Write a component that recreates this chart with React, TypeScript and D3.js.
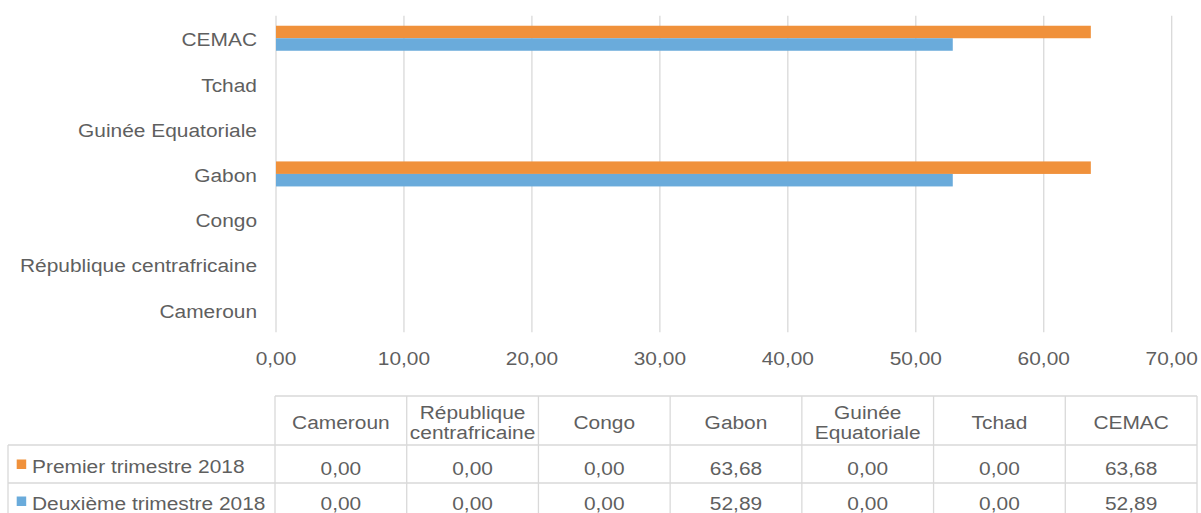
import React from "react";
import * as d3 from "d3";

const categories = [
  "Cameroun",
  "République centrafricaine",
  "Congo",
  "Gabon",
  "Guinée Equatoriale",
  "Tchad",
  "CEMAC",
];
const headerLines = [
  ["Cameroun"],
  ["République", "centrafricaine"],
  ["Congo"],
  ["Gabon"],
  ["Guinée", "Equatoriale"],
  ["Tchad"],
  ["CEMAC"],
];
const seriesNames = ["Premier trimestre 2018", "Deuxième trimestre 2018"];
const premier = [0, 0, 0, 63.68, 0, 0, 63.68];
const deuxieme = [0, 0, 0, 52.89, 0, 0, 52.89];
const xTicks = [0, 10, 20, 30, 40, 50, 60, 70];
const colors = ["#F0913B", "#6AABDB"];

const W = 1201;
const H = 513;
const TXT = "#5f5f5f";
const GRID = "#D9D9D9";
const FS = 19;
const SX = 1.1;
const FONT = "'Liberation Sans', Arial, Helvetica, sans-serif";

const fmt = (v: number) => d3.format(".2f")(v).replace(".", ",");

function T({ x, y, anchor = "middle", children }: any) {
  return (
    <text
      transform={`translate(${x},${y}) scale(${SX},1)`}
      textAnchor={anchor}
      fontSize={FS}
      fill={TXT}
      fontFamily={FONT}
    >
      {children}
    </text>
  );
}

export default function App() {
  const series = [premier, deuxieme];
  const x = d3.scaleLinear().domain([0, 70]).range([276, 1171.7]);
  const y = d3
    .scaleBand<string>()
    .domain([...categories].reverse())
    .range([15.7, 332.3])
    .paddingInner(0)
    .paddingOuter(0);
  const bw = y.bandwidth();
  const inner = d3
    .scaleBand<number>()
    .domain([0, 1])
    .range([bw * 0.222, bw * 0.775]);

  // table geometry
  const tLeft = 8;
  const tColStart = 275;
  const tRight = 1197;
  const col = d3
    .scaleBand<string>()
    .domain(categories)
    .range([tColStart, tRight]);
  const rowLines = [396, 445, 483, 521];
  const rowBaselines = [475, 510];
  const legendBaselines = [473, 510];

  return (
    <svg
      width={W}
      height={H}
      style={{ position: "absolute", left: 0, top: 0, background: "#fff" }}
    >
      <rect x={0} y={0} width={W} height={H} fill="#fff" />
      {/* gridlines */}
      {xTicks.map((t) => (
        <line
          key={t}
          x1={x(t)}
          x2={x(t)}
          y1={15.7}
          y2={332.3}
          stroke={GRID}
          strokeWidth={1.3}
        />
      ))}
      {/* bars */}
      {categories.map((c, i) =>
        series.map((s, k) =>
          s[i] > 0 ? (
            <rect
              key={c + k}
              x={x(0)}
              y={(y(c) as number) + (inner(k) as number)}
              width={x(s[i]) - x(0)}
              height={inner.bandwidth()}
              fill={colors[k]}
            />
          ) : null
        )
      )}
      {/* y labels */}
      {categories.map((c) => (
        <T key={c} x={257} y={(y(c) as number) + bw / 2 + 8} anchor="end">
          {c}
        </T>
      ))}
      {/* x tick labels */}
      {xTicks.map((t) => (
        <T key={t} x={x(t)} y={365}>
          {fmt(t)}
        </T>
      ))}
      {/* table lines */}
      <line x1={tColStart} x2={tRight} y1={rowLines[0]} y2={rowLines[0]} stroke={GRID} strokeWidth={1.3} />
      {rowLines.slice(1).map((ry) => (
        <line key={ry} x1={tLeft} x2={tRight} y1={ry} y2={ry} stroke={GRID} strokeWidth={1.3} />
      ))}
      <line x1={tLeft} x2={tLeft} y1={rowLines[1]} y2={H} stroke={GRID} strokeWidth={1.3} />
      {categories.map((c) => (
        <line
          key={c}
          x1={col(c) as number}
          x2={col(c) as number}
          y1={rowLines[0]}
          y2={H}
          stroke={GRID}
          strokeWidth={1.3}
        />
      ))}
      <line x1={tRight} x2={tRight} y1={rowLines[0]} y2={H} stroke={GRID} strokeWidth={1.3} />
      {/* headers */}
      {categories.map((c, i) => {
        const cx = (col(c) as number) + col.bandwidth() / 2;
        const lines = headerLines[i];
        if (lines.length === 1) {
          return (
            <T key={c} x={cx} y={429}>
              {lines[0]}
            </T>
          );
        }
        return (
          <g key={c}>
            <T x={cx} y={419}>
              {lines[0]}
            </T>
            <T x={cx} y={439}>
              {lines[1]}
            </T>
          </g>
        );
      })}
      {/* legend rows */}
      {seriesNames.map((n, k) => (
        <g key={n}>
          <rect
            x={16.7}
            y={legendBaselines[k] - 13.5}
            width={9.5}
            height={9.5}
            fill={colors[k]}
          />
          <T x={32} y={legendBaselines[k]} anchor="start">
            {n}
          </T>
          {categories.map((c, i) => (
            <T
              key={c}
              x={(col(c) as number) + col.bandwidth() / 2}
              y={rowBaselines[k]}
            >
              {fmt(series[k][i])}
            </T>
          ))}
        </g>
      ))}
    </svg>
  );
}
